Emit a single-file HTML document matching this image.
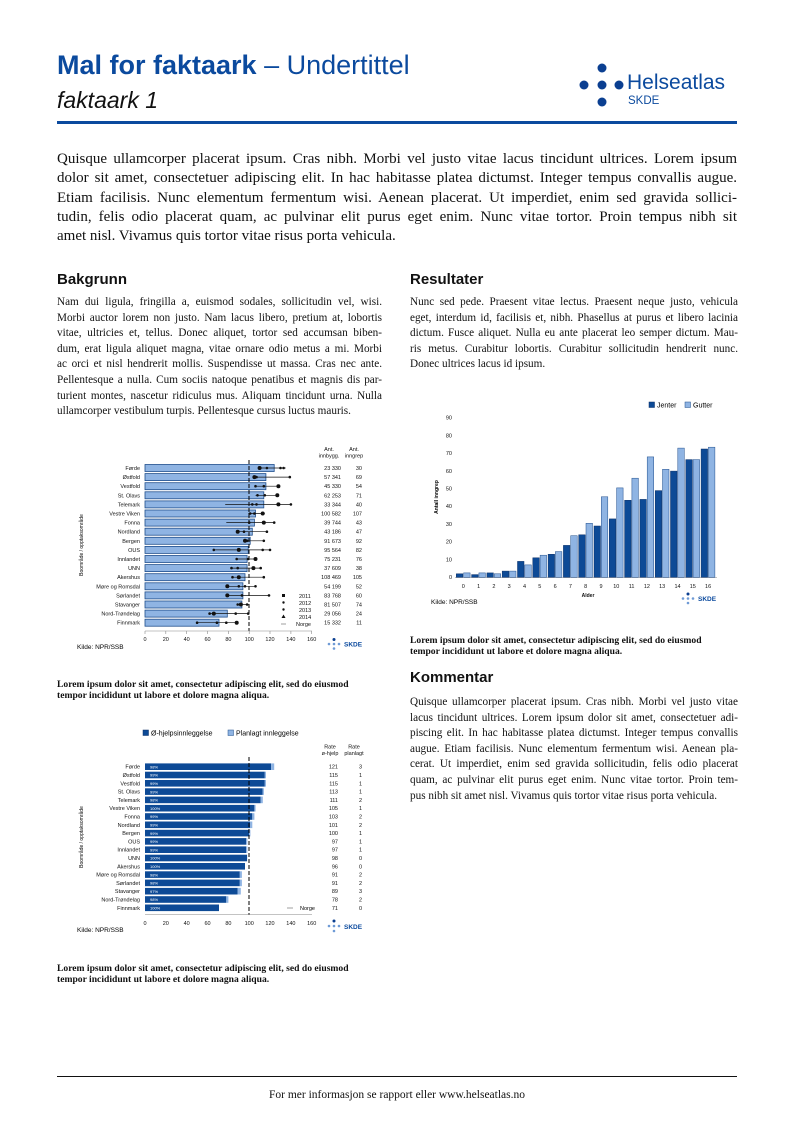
<!DOCTYPE html>
<html><head><meta charset="utf-8">
<style>
*{margin:0;padding:0;box-sizing:border-box}
body{width:794px;height:1123px;position:relative;background:#fff;font-family:"Liberation Serif",serif;color:#111;overflow:hidden}
.a{position:absolute}
.j{text-align:justify;text-align-last:justify;white-space:nowrap}
.l{white-space:nowrap}
.p15 div{height:19.3px;font-size:15px;line-height:19.3px}
.p11 div{height:15.6px;font-size:11.2px;line-height:15.6px}
h2{position:absolute;font-family:"Liberation Sans",sans-serif;font-size:15px;font-weight:bold;color:#111}
.cap{position:absolute;font-size:9.6px;font-weight:bold;line-height:11px}
svg text{font-family:"Liberation Sans",sans-serif}
</style></head><body>
<div class="a" style="left:57px;top:50px;font-family:'Liberation Sans',sans-serif;font-size:27px;color:#0b4a9e;white-space:nowrap"><b>Mal for faktaark</b> – Undertittel</div>
<div class="a" style="left:57px;top:87px;font-family:'Liberation Sans',sans-serif;font-size:23px;font-style:italic;color:#111">faktaark 1</div>
<svg class="a" style="left:0;top:0" width="794" height="130">
<g fill="#0b3f91"><circle cx="602" cy="68" r="4.5"/><circle cx="584" cy="85" r="4.5"/><circle cx="602" cy="85" r="4.5"/><circle cx="619" cy="85" r="4.5"/><circle cx="602" cy="102" r="4.5"/></g>
<text x="627" y="89" font-size="21" fill="#0b4a9e">Helseatlas</text>
<text x="628" y="104" font-size="11.5" fill="#0b4a9e">SKDE</text>
<rect x="57" y="121" width="680" height="3" fill="#0b4a9e"/>
</svg>
<div class="a p15" style="left:57px;top:150px;width:680px">
<div class="j">Quisque ullamcorper placerat ipsum. Cras nibh. Morbi vel justo vitae lacus tincidunt ultrices. Lorem ipsum</div>
<div class="j">dolor sit amet, consectetuer adipiscing elit. In hac habitasse platea dictumst. Integer tempus convallis augue.</div>
<div class="j">Etiam facilisis. Nunc elementum fermentum wisi. Aenean placerat. Ut imperdiet, enim sed gravida sollici-</div>
<div class="j">tudin, felis odio placerat quam, ac pulvinar elit purus eget enim. Nunc vitae tortor. Proin tempus nibh sit</div>
<div class="l">amet nisl. Vivamus quis tortor vitae risus porta vehicula.</div>
</div>
<h2 style="left:57px;top:271px">Bakgrunn</h2>
<h2 style="left:410px;top:271px">Resultater</h2>
<div class="a p11" style="left:57px;top:295px;width:325px">
<div class="j">Nam dui ligula, fringilla a, euismod sodales, sollicitudin vel, wisi.</div>
<div class="j">Morbi auctor lorem non justo. Nam lacus libero, pretium at, lobortis</div>
<div class="j">vitae, ultricies et, tellus. Donec aliquet, tortor sed accumsan biben-</div>
<div class="j">dum, erat ligula aliquet magna, vitae ornare odio metus a mi. Morbi</div>
<div class="j">ac orci et nisl hendrerit mollis. Suspendisse ut massa. Cras nec ante.</div>
<div class="j">Pellentesque a nulla. Cum sociis natoque penatibus et magnis dis par-</div>
<div class="j">turient montes, nascetur ridiculus mus. Aliquam tincidunt urna. Nulla</div>
<div class="l">ullamcorper vestibulum turpis. Pellentesque cursus luctus mauris.</div>
</div>
<div class="a p11" style="left:410px;top:295px;width:328px">
<div class="j">Nunc sed pede. Praesent vitae lectus. Praesent neque justo, vehicula</div>
<div class="j">eget, interdum id, facilisis et, nibh. Phasellus at purus et libero lacinia</div>
<div class="j">dictum. Fusce aliquet. Nulla eu ante placerat leo semper dictum. Mau-</div>
<div class="j">ris metus. Curabitur lobortis. Curabitur sollicitudin hendrerit nunc.</div>
<div class="l">Donec ultrices lacus id ipsum.</div>
</div>
<div class="cap" style="left:57px;top:679px">Lorem ipsum dolor sit amet, consectetur adipiscing elit, sed do eiusmod<br>tempor incididunt ut labore et dolore magna aliqua.</div>
<div class="cap" style="left:410px;top:635px">Lorem ipsum dolor sit amet, consectetur adipiscing elit, sed do eiusmod<br>tempor incididunt ut labore et dolore magna aliqua.</div>
<div class="cap" style="left:57px;top:963px">Lorem ipsum dolor sit amet, consectetur adipiscing elit, sed do eiusmod<br>tempor incididunt ut labore et dolore magna aliqua.</div>
<h2 style="left:410px;top:669px">Kommentar</h2>
<div class="a p11" style="left:410px;top:695px;width:328px">
<div class="j">Quisque ullamcorper placerat ipsum. Cras nibh. Morbi vel justo vitae</div>
<div class="j">lacus tincidunt ultrices. Lorem ipsum dolor sit amet, consectetuer adi-</div>
<div class="j">piscing elit. In hac habitasse platea dictumst. Integer tempus convallis</div>
<div class="j">augue. Etiam facilisis. Nunc elementum fermentum wisi. Aenean pla-</div>
<div class="j">cerat. Ut imperdiet, enim sed gravida sollicitudin, felis odio placerat</div>
<div class="j">quam, ac pulvinar elit purus eget enim. Nunc vitae tortor. Proin tem-</div>
<div class="l">pus nibh sit amet nisl. Vivamus quis tortor vitae risus porta vehicula.</div>
</div>
<div class="a" style="left:57px;top:1076px;width:680px;height:1px;background:#111"></div>
<div class="a" style="left:0;top:1089px;width:794px;text-align:center;font-size:11.5px">For mer informasjon se rapport eller www.helseatlas.no</div>

<svg class="a" style="left:0;top:0" width="794" height="1123" font-size="5.5">
<!-- Chart 1 -->
<g fill="#8fb4e3" stroke="#1f4e8c" stroke-width="0.8">
<rect x="145" y="464.5" width="129.2" height="7"/><rect x="145" y="473.6" width="120.9" height="7"/><rect x="145" y="482.7" width="120.9" height="7"/><rect x="145" y="491.8" width="118.8" height="7"/><rect x="145" y="500.9" width="118.8" height="7"/><rect x="145" y="510" width="110.5" height="7"/><rect x="145" y="519.1" width="109.4" height="7"/><rect x="145" y="528.2" width="107.3" height="7"/><rect x="145" y="537.3" width="105.2" height="7"/><rect x="145" y="546.4" width="103.2" height="7"/><rect x="145" y="555.5" width="102.1" height="7"/><rect x="145" y="564.6" width="102.1" height="7"/><rect x="145" y="573.7" width="100" height="7"/><rect x="145" y="582.8" width="97.9" height="7"/><rect x="145" y="591.9" width="97.9" height="7"/><rect x="145" y="601" width="96.9" height="7"/><rect x="145" y="610.1" width="82.3" height="7"/><rect x="145" y="619.2" width="74" height="7"/>
</g>
<line x1="249" y1="460" x2="249" y2="631" stroke="#000" stroke-width="1" stroke-dasharray="4,2"/>
<g stroke="#111" stroke-width="0.7">
<line x1="259.6" y1="468" x2="285.7" y2="468"/><line x1="253.4" y1="477.1" x2="289.8" y2="477.1"/><line x1="255.5" y1="486.2" x2="279.4" y2="486.2"/><line x1="255.5" y1="495.3" x2="278.4" y2="495.3"/><line x1="225.2" y1="504.4" x2="291.9" y2="504.4"/><line x1="248.2" y1="513.5" x2="264.8" y2="513.5"/><line x1="226.3" y1="522.6" x2="274.2" y2="522.6"/><line x1="237.7" y1="531.7" x2="266.9" y2="531.7"/><line x1="243" y1="540.8" x2="263.8" y2="540.8"/><line x1="213.8" y1="549.9" x2="270" y2="549.9"/><line x1="236.7" y1="559" x2="255.5" y2="559"/><line x1="230.4" y1="568.1" x2="260.7" y2="568.1"/><line x1="231.5" y1="577.2" x2="264.8" y2="577.2"/><line x1="226.3" y1="586.3" x2="255.5" y2="586.3"/><line x1="226.3" y1="595.4" x2="269" y2="595.4"/><line x1="236.7" y1="604.5" x2="247.1" y2="604.5"/><line x1="208.6" y1="613.6" x2="248.2" y2="613.6"/><line x1="197.1" y1="622.7" x2="237.7" y2="622.7"/>
</g>
<g fill="#111">
<circle cx="259.6" cy="468" r="2"/><circle cx="266.9" cy="468" r="1.3"/><circle cx="280.5" cy="468" r="1.3"/><circle cx="283.6" cy="468" r="1.3"/>
<circle cx="254.4" cy="477.1" r="2"/><circle cx="256.5" cy="477.1" r="1.3"/><circle cx="289.8" cy="477.1" r="1.3"/>
<circle cx="278.4" cy="486.2" r="2"/><circle cx="255.5" cy="486.2" r="1.3"/><circle cx="263.8" cy="486.2" r="1.3"/>
<circle cx="277.3" cy="495.3" r="2"/><circle cx="257.5" cy="495.3" r="1.3"/><circle cx="264.8" cy="495.3" r="1.3"/>
<circle cx="278.4" cy="504.4" r="2"/><circle cx="252.3" cy="504.4" r="1.3"/><circle cx="256.5" cy="504.4" r="1.3"/><circle cx="290.9" cy="504.4" r="1.3"/>
<circle cx="262.7" cy="513.5" r="2"/><circle cx="250.2" cy="513.5" r="1.3"/><circle cx="254.4" cy="513.5" r="1.3"/>
<circle cx="263.8" cy="522.6" r="2"/><circle cx="249.2" cy="522.6" r="1.3"/><circle cx="274.2" cy="522.6" r="1.3"/>
<circle cx="237.7" cy="531.7" r="2"/><circle cx="244" cy="531.7" r="1.3"/><circle cx="266.9" cy="531.7" r="1.3"/>
<circle cx="245" cy="540.8" r="2"/><circle cx="247.1" cy="540.8" r="1.3"/><circle cx="263.8" cy="540.8" r="1.3"/>
<circle cx="238.8" cy="549.9" r="2"/><circle cx="213.8" cy="549.9" r="1.3"/><circle cx="262.7" cy="549.9" r="1.3"/><circle cx="270" cy="549.9" r="1.3"/>
<circle cx="255.5" cy="559" r="2"/><circle cx="236.7" cy="559" r="1.3"/><circle cx="248.2" cy="559" r="1.3"/>
<circle cx="253.4" cy="568.1" r="2"/><circle cx="231.5" cy="568.1" r="1.3"/><circle cx="237.7" cy="568.1" r="1.3"/><circle cx="260.7" cy="568.1" r="1.3"/>
<circle cx="238.8" cy="577.2" r="2"/><circle cx="232.5" cy="577.2" r="1.3"/><circle cx="263.8" cy="577.2" r="1.3"/>
<circle cx="227.3" cy="586.3" r="2"/><circle cx="238.8" cy="586.3" r="1.3"/><circle cx="245" cy="586.3" r="1.3"/><circle cx="255.5" cy="586.3" r="1.3"/>
<circle cx="227.3" cy="595.4" r="2"/><circle cx="241.9" cy="595.4" r="1.3"/><circle cx="269" cy="595.4" r="1.3"/>
<circle cx="240.9" cy="604.5" r="2"/><circle cx="237.7" cy="604.5" r="1.3"/><circle cx="247.1" cy="604.5" r="1.3"/>
<circle cx="213.8" cy="613.6" r="2"/><circle cx="209.6" cy="613.6" r="1.3"/><circle cx="235.7" cy="613.6" r="1.3"/><circle cx="248.2" cy="613.6" r="1.3"/>
<circle cx="236.7" cy="622.7" r="2"/><circle cx="197.1" cy="622.7" r="1.3"/><circle cx="216.9" cy="622.7" r="1.3"/><circle cx="226.3" cy="622.7" r="1.3"/>
</g>
<g text-anchor="end" fill="#111">
<text x="140" y="470">Førde</text><text x="140" y="479.1">Østfold</text><text x="140" y="488.2">Vestfold</text><text x="140" y="497.3">St. Olavs</text><text x="140" y="506.4">Telemark</text><text x="140" y="515.5">Vestre Viken</text><text x="140" y="524.6">Fonna</text><text x="140" y="533.7">Nordland</text><text x="140" y="542.8">Bergen</text><text x="140" y="551.9">OUS</text><text x="140" y="561">Innlandet</text><text x="140" y="570.1">UNN</text><text x="140" y="579.2">Akershus</text><text x="140" y="588.3">Møre og Romsdal</text><text x="140" y="597.4">Sørlandet</text><text x="140" y="606.5">Stavanger</text><text x="140" y="615.6">Nord-Trøndelag</text><text x="140" y="624.7">Finnmark</text>
<text x="341" y="470">23 330</text><text x="341" y="479.1">57 341</text><text x="341" y="488.2">45 330</text><text x="341" y="497.3">62 253</text><text x="341" y="506.4">33 344</text><text x="341" y="515.5">100 582</text><text x="341" y="524.6">39 744</text><text x="341" y="533.7">43 186</text><text x="341" y="542.8">91 673</text><text x="341" y="551.9">95 564</text><text x="341" y="561">75 231</text><text x="341" y="570.1">37 609</text><text x="341" y="579.2">108 469</text><text x="341" y="588.3">54 199</text><text x="341" y="597.4">83 768</text><text x="341" y="606.5">81 507</text><text x="341" y="615.6">29 056</text><text x="341" y="624.7">15 332</text>
<text x="362" y="470">30</text><text x="362" y="479.1">69</text><text x="362" y="488.2">54</text><text x="362" y="497.3">71</text><text x="362" y="506.4">40</text><text x="362" y="515.5">107</text><text x="362" y="524.6">43</text><text x="362" y="533.7">47</text><text x="362" y="542.8">92</text><text x="362" y="551.9">82</text><text x="362" y="561">76</text><text x="362" y="570.1">38</text><text x="362" y="579.2">105</text><text x="362" y="588.3">52</text><text x="362" y="597.4">60</text><text x="362" y="606.5">74</text><text x="362" y="615.6">24</text><text x="362" y="624.7">11</text>
</g>
<g text-anchor="middle" fill="#111">
<text x="329" y="451">Ant.</text><text x="329" y="457.5">innbygg.</text><text x="354" y="451">Ant.</text><text x="354" y="457.5">inngrep</text>
<text x="145" y="641">0</text><text x="165.8" y="641">20</text><text x="186.7" y="641">40</text><text x="207.5" y="641">60</text><text x="228.4" y="641">80</text><text x="249.2" y="641">100</text><text x="270" y="641">120</text><text x="290.9" y="641">140</text><text x="311.7" y="641">160</text>
</g>
<line x1="145" y1="631" x2="312" y2="631" stroke="#888" stroke-width="0.6"/>
<g stroke="#888" stroke-width="0.6"><line x1="145" y1="631" x2="145" y2="634"/><line x1="165.8" y1="631" x2="165.8" y2="634"/><line x1="186.7" y1="631" x2="186.7" y2="634"/><line x1="207.5" y1="631" x2="207.5" y2="634"/><line x1="228.4" y1="631" x2="228.4" y2="634"/><line x1="249.2" y1="631" x2="249.2" y2="634"/><line x1="270" y1="631" x2="270" y2="634"/><line x1="290.9" y1="631" x2="290.9" y2="634"/><line x1="311.7" y1="631" x2="311.7" y2="634"/></g>
<text transform="translate(83,545) rotate(-90)" text-anchor="middle" font-size="5">Boområde / opptaksområde</text>
<g fill="#111"><rect x="282" y="594" width="3" height="3"/><circle cx="283.5" cy="602.5" r="1.2"/><circle cx="283.5" cy="609.5" r="1.2"/><path d="M283.5 614.5 L285.5 618 L281.5 618 Z"/></g>
<line x1="281" y1="624" x2="286" y2="624" stroke="#888" stroke-width="0.8"/>
<g fill="#111"><text x="299" y="598">2011</text><text x="299" y="605">2012</text><text x="299" y="612">2013</text><text x="299" y="619">2014</text><text x="296" y="626">Norge</text></g>
<text x="77" y="649" font-size="6.5">Kilde: NPR/SSB</text>
<g fill="#6f9bd6"><circle cx="334" cy="639.5" r="1.5" fill="#0b3f91"/><circle cx="329" cy="644" r="1.3"/><circle cx="334" cy="644" r="1.3"/><circle cx="339" cy="644" r="1.3"/><circle cx="334" cy="648.5" r="1.3"/></g>
<text x="344" y="646.5" font-size="6.5" font-weight="bold" fill="#0b4a9e">SKDE</text>

<!-- Chart 2 -->
<g fill="#111" text-anchor="end" font-size="5.5">
<text x="452" y="579">0</text><text x="452" y="561.3">10</text><text x="452" y="543.6">20</text><text x="452" y="525.9">30</text><text x="452" y="508.2">40</text><text x="452" y="490.5">50</text><text x="452" y="472.8">60</text><text x="452" y="455.1">70</text><text x="452" y="437.4">80</text><text x="452" y="419.7">90</text>
</g>
<line x1="455" y1="577.5" x2="717" y2="577.5" stroke="#888" stroke-width="0.6"/>
<g fill="#0d4a96" stroke="#0a2f66" stroke-width="0.5">
<rect x="456.3" y="573.8" width="6.5" height="3.5"/><rect x="471.6" y="574.6" width="6.5" height="2.7"/><rect x="486.9" y="572.9" width="6.5" height="4.4"/><rect x="502.2" y="571.1" width="6.5" height="6.2"/><rect x="517.5" y="561.4" width="6.5" height="15.9"/><rect x="532.8" y="557.8" width="6.5" height="19.5"/><rect x="548.1" y="554.3" width="6.5" height="23"/><rect x="563.4" y="545.4" width="6.5" height="31.9"/><rect x="578.7" y="534.8" width="6.5" height="42.5"/><rect x="594" y="526" width="6.5" height="51.3"/><rect x="609.3" y="518.9" width="6.5" height="58.4"/><rect x="624.6" y="500.3" width="6.5" height="77"/><rect x="639.9" y="499.4" width="6.5" height="77.9"/><rect x="655.2" y="490.6" width="6.5" height="86.7"/><rect x="670.5" y="471.1" width="6.5" height="106.2"/><rect x="685.8" y="459.6" width="6.5" height="117.7"/><rect x="701.1" y="449" width="6.5" height="128.3"/>
</g>
<g fill="#8fb4e3" stroke="#1f4e8c" stroke-width="0.5">
<rect x="463.6" y="572.9" width="6.5" height="4.4"/><rect x="478.9" y="572.9" width="6.5" height="4.4"/><rect x="494.2" y="573.8" width="6.5" height="3.5"/><rect x="509.5" y="571.1" width="6.5" height="6.2"/><rect x="524.8" y="564.9" width="6.5" height="12.4"/><rect x="540.1" y="555.2" width="6.5" height="22.1"/><rect x="555.4" y="551.6" width="6.5" height="25.7"/><rect x="570.7" y="535.7" width="6.5" height="41.6"/><rect x="586" y="523.3" width="6.5" height="54"/><rect x="601.3" y="496.8" width="6.5" height="80.5"/><rect x="616.6" y="487.9" width="6.5" height="89.4"/><rect x="631.9" y="478.2" width="6.5" height="99.1"/><rect x="647.2" y="456.9" width="6.5" height="120.4"/><rect x="662.5" y="469.3" width="6.5" height="108"/><rect x="677.8" y="448.1" width="6.5" height="129.2"/><rect x="693.1" y="459.6" width="6.5" height="117.7"/><rect x="708.4" y="447.2" width="6.5" height="130.1"/>
</g>
<g fill="#111" text-anchor="middle" font-size="5.5">
<text x="463.3" y="588">0</text><text x="478.6" y="588">1</text><text x="493.9" y="588">2</text><text x="509.2" y="588">3</text><text x="524.5" y="588">4</text><text x="539.8" y="588">5</text><text x="555.1" y="588">6</text><text x="570.4" y="588">7</text><text x="585.7" y="588">8</text><text x="601" y="588">9</text><text x="616.3" y="588">10</text><text x="631.6" y="588">11</text><text x="646.9" y="588">12</text><text x="662.2" y="588">13</text><text x="677.5" y="588">14</text><text x="692.8" y="588">15</text><text x="708.1" y="588">16</text>
<text x="588" y="597" font-weight="bold" font-size="5">Alder</text>
</g>
<text transform="translate(438,497) rotate(-90)" text-anchor="middle" font-size="5" font-weight="bold">Antall inngrep</text>
<rect x="649" y="402" width="5.5" height="5.5" fill="#0d4a96" stroke="#0a2f66" stroke-width="0.5"/><text x="657" y="407.5" font-size="7">Jenter</text>
<rect x="685" y="402" width="5.5" height="5.5" fill="#8fb4e3" stroke="#1f4e8c" stroke-width="0.5"/><text x="693" y="407.5" font-size="7">Gutter</text>
<text x="431" y="604" font-size="6.5">Kilde: NPR/SSB</text>
<g fill="#6f9bd6"><circle cx="688" cy="594" r="1.5" fill="#0b3f91"/><circle cx="683" cy="598.5" r="1.3"/><circle cx="688" cy="598.5" r="1.3"/><circle cx="693" cy="598.5" r="1.3"/><circle cx="688" cy="603" r="1.3"/></g>
<text x="698" y="601" font-size="6.5" font-weight="bold" fill="#0b4a9e">SKDE</text>

<!-- Chart 3 -->
<rect x="143" y="730" width="5.5" height="5.5" fill="#0d4a96" stroke="#0a2f66" stroke-width="0.5"/><text x="151" y="735.5" font-size="7">Ø-hjelpsinnleggelse</text>
<rect x="228" y="730" width="5.5" height="5.5" fill="#8fb4e3" stroke="#1f4e8c" stroke-width="0.5"/><text x="236" y="735.5" font-size="7">Planlagt innleggelse</text>
<g fill="#0d4a96">
<rect x="145" y="763.4" width="126.1" height="6.6"/><rect x="145" y="771.7" width="119.8" height="6.6"/><rect x="145" y="780" width="119.8" height="6.6"/><rect x="145" y="788.3" width="117.7" height="6.6"/><rect x="145" y="796.6" width="115.7" height="6.6"/><rect x="145" y="804.9" width="109.4" height="6.6"/><rect x="145" y="813.2" width="107.3" height="6.6"/><rect x="145" y="821.5" width="105.2" height="6.6"/><rect x="145" y="829.8" width="104.2" height="6.6"/><rect x="145" y="838.1" width="101.1" height="6.6"/><rect x="145" y="846.4" width="101.1" height="6.6"/><rect x="145" y="854.7" width="102.1" height="6.6"/><rect x="145" y="863" width="100" height="6.6"/><rect x="145" y="871.3" width="94.8" height="6.6"/><rect x="145" y="879.6" width="94.8" height="6.6"/><rect x="145" y="887.9" width="92.7" height="6.6"/><rect x="145" y="896.2" width="81.3" height="6.6"/><rect x="145" y="904.5" width="74" height="6.6"/>
</g>
<g fill="#8fb4e3">
<rect x="271.1" y="763.4" width="3.1" height="6.6"/><rect x="264.8" y="771.7" width="1.2" height="6.6"/><rect x="264.8" y="780" width="1.2" height="6.6"/><rect x="262.7" y="788.3" width="1.2" height="6.6"/><rect x="260.7" y="796.6" width="2.1" height="6.6"/><rect x="254.4" y="804.9" width="1.2" height="6.6"/><rect x="252.3" y="813.2" width="2.1" height="6.6"/><rect x="250.2" y="821.5" width="2.1" height="6.6"/><rect x="249.2" y="829.8" width="1.2" height="6.6"/><rect x="246.1" y="838.1" width="1.2" height="6.6"/><rect x="246.1" y="846.4" width="1.2" height="6.6"/><rect x="239.8" y="871.3" width="2.1" height="6.6"/><rect x="239.8" y="879.6" width="2.1" height="6.6"/><rect x="237.7" y="887.9" width="3.1" height="6.6"/><rect x="226.3" y="896.2" width="2.1" height="6.6"/>
</g>
<line x1="249" y1="757" x2="249" y2="915" stroke="#000" stroke-width="1" stroke-dasharray="4,2"/>
<g fill="#fff" font-size="4">
<text x="150" y="768.4">98%</text><text x="150" y="776.7">99%</text><text x="150" y="785">99%</text><text x="150" y="793.3">99%</text><text x="150" y="801.6">98%</text><text x="150" y="809.9">100%</text><text x="150" y="818.2">99%</text><text x="150" y="826.5">99%</text><text x="150" y="834.8">99%</text><text x="150" y="843.1">99%</text><text x="150" y="851.4">99%</text><text x="150" y="859.7">100%</text><text x="150" y="868">100%</text><text x="150" y="876.3">98%</text><text x="150" y="884.6">98%</text><text x="150" y="892.9">97%</text><text x="150" y="901.2">98%</text><text x="150" y="909.5">100%</text>
</g>
<g text-anchor="end" fill="#111">
<text x="140" y="768.7">Førde</text><text x="140" y="777">Østfold</text><text x="140" y="785.3">Vestfold</text><text x="140" y="793.6">St. Olavs</text><text x="140" y="801.9">Telemark</text><text x="140" y="810.2">Vestre Viken</text><text x="140" y="818.5">Fonna</text><text x="140" y="826.8">Nordland</text><text x="140" y="835.1">Bergen</text><text x="140" y="843.4">OUS</text><text x="140" y="851.7">Innlandet</text><text x="140" y="860">UNN</text><text x="140" y="868.3">Akershus</text><text x="140" y="876.6">Møre og Romsdal</text><text x="140" y="884.9">Sørlandet</text><text x="140" y="893.2">Stavanger</text><text x="140" y="901.5">Nord-Trøndelag</text><text x="140" y="909.8">Finnmark</text>
<text x="338" y="768.7">121</text><text x="338" y="777">115</text><text x="338" y="785.3">115</text><text x="338" y="793.6">113</text><text x="338" y="801.9">111</text><text x="338" y="810.2">105</text><text x="338" y="818.5">103</text><text x="338" y="826.8">101</text><text x="338" y="835.1">100</text><text x="338" y="843.4">97</text><text x="338" y="851.7">97</text><text x="338" y="860">98</text><text x="338" y="868.3">96</text><text x="338" y="876.6">91</text><text x="338" y="884.9">91</text><text x="338" y="893.2">89</text><text x="338" y="901.5">78</text><text x="338" y="909.8">71</text>
<text x="362" y="768.7">3</text><text x="362" y="777">1</text><text x="362" y="785.3">1</text><text x="362" y="793.6">1</text><text x="362" y="801.9">2</text><text x="362" y="810.2">1</text><text x="362" y="818.5">2</text><text x="362" y="826.8">2</text><text x="362" y="835.1">1</text><text x="362" y="843.4">1</text><text x="362" y="851.7">1</text><text x="362" y="860">0</text><text x="362" y="868.3">0</text><text x="362" y="876.6">2</text><text x="362" y="884.9">2</text><text x="362" y="893.2">3</text><text x="362" y="901.5">2</text><text x="362" y="909.8">0</text>
</g>
<g text-anchor="middle" fill="#111">
<text x="330" y="748.5">Rate</text><text x="330" y="755">ø-hjelp</text><text x="354" y="748.5">Rate</text><text x="354" y="755">planlagt</text>
<text x="145" y="925">0</text><text x="165.8" y="925">20</text><text x="186.7" y="925">40</text><text x="207.5" y="925">60</text><text x="228.4" y="925">80</text><text x="249.2" y="925">100</text><text x="270" y="925">120</text><text x="290.9" y="925">140</text><text x="311.7" y="925">160</text>
</g>
<line x1="145" y1="914.5" x2="312" y2="914.5" stroke="#888" stroke-width="0.6"/>
<text transform="translate(83,837) rotate(-90)" text-anchor="middle" font-size="5">Boområde / opptaksområde</text>
<line x1="287" y1="908" x2="293" y2="908" stroke="#888" stroke-width="0.8"/><text x="300" y="910">Norge</text>
<text x="77" y="932" font-size="6.5">Kilde: NPR/SSB</text>
<g fill="#6f9bd6"><circle cx="334" cy="921" r="1.5" fill="#0b3f91"/><circle cx="329" cy="926" r="1.3"/><circle cx="334" cy="926" r="1.3"/><circle cx="339" cy="926" r="1.3"/><circle cx="334" cy="931" r="1.3"/></g>
<text x="344" y="929" font-size="6.5" font-weight="bold" fill="#0b4a9e">SKDE</text>
</svg>
</body></html>
